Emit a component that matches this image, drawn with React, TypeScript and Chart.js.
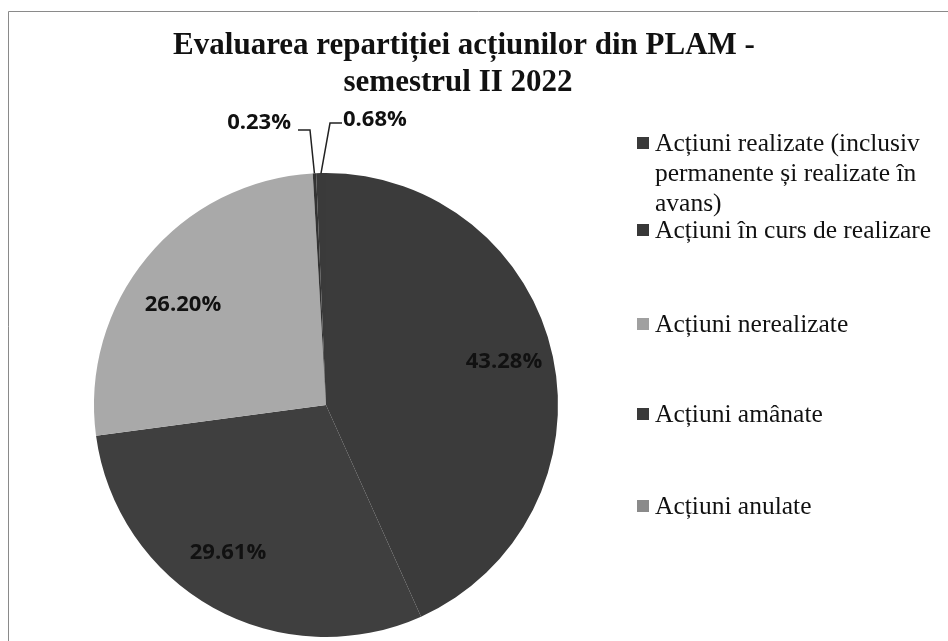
import React, { useEffect, useRef } from "react";
import { Chart, registerables } from "chart.js";

Chart.register(...registerables);

const titleLines = ["Evaluarea repartiției acțiunilor din PLAM -", "semestrul II 2022"];
const categories = [
  "Acțiuni realizate (inclusiv permanente și realizate în avans)",
  "Acțiuni în curs de realizare",
  "Acțiuni nerealizate",
  "Acțiuni amânate",
  "Acțiuni anulate",
];
const legendLines = [
  ["Acțiuni realizate (inclusiv", "permanente și realizate în", "avans)"],
  ["Acțiuni în curs de realizare"],
  ["Acțiuni nerealizate"],
  ["Acțiuni amânate"],
  ["Acțiuni anulate"],
];
const values = [43.28, 29.61, 26.2, 0.23, 0.68];
const valueLabels = ["43.28%", "29.61%", "26.20%", "0.23%", "0.68%"];
const sliceColors = ["#3b3b3b", "#3f3f3f", "#a9a9a9", "#333333", "#3a3a3a"];
const legendColors = ["#3a3a3a", "#383838", "#a0a0a0", "#3a3a3a", "#8a8a8a"];

const overlay = {
  id: "overlay",
  afterDraw(chart: any) {
    const ctx = chart.ctx as CanvasRenderingContext2D;
    ctx.save();
    // frame
    ctx.strokeStyle = "#8a8a8a";
    ctx.lineWidth = 1;
    ctx.beginPath();
    ctx.moveTo(8.5, 641);
    ctx.lineTo(8.5, 11.5);
    ctx.lineTo(948, 11.5);
    ctx.stroke();

    // title
    ctx.fillStyle = "#111";
    ctx.font = "bold 31px 'Liberation Serif', 'Times New Roman', serif";
    ctx.textAlign = "center";
    ctx.textBaseline = "middle";
    ctx.fillText(titleLines[0], 464, 46);
    ctx.fillText(titleLines[1], 458, 83);

    // data labels
    const meta = chart.getDatasetMeta(0);
    ctx.font = "bold 22px 'Open Sans', 'DejaVu Sans', sans-serif";
    ctx.fillStyle = "#111";
    const pos = [
      [504, 362],
      [228, 553],
      [183, 305],
    ];
    pos.forEach(([x, y], i) => ctx.fillText(valueLabels[i], x, y));

    // small slices with leaders
    const a3 = meta.data[3];
    const a4 = meta.data[4];
    const pt = (arc: any) => {
      const mid = (arc.startAngle + arc.endAngle) / 2;
      return [arc.x + Math.cos(mid) * arc.outerRadius, arc.y + Math.sin(mid) * arc.outerRadius];
    };
    const [x3, y3] = pt(a3);
    const [x4, y4] = pt(a4);
    ctx.strokeStyle = "#222";
    ctx.lineWidth = 1.5;
    ctx.beginPath();
    ctx.moveTo(298, 130);
    ctx.lineTo(310, 130);
    ctx.lineTo(x3, y3);
    ctx.stroke();
    ctx.beginPath();
    ctx.moveTo(342, 123);
    ctx.lineTo(330, 123);
    ctx.lineTo(x4, y4);
    ctx.stroke();
    ctx.textAlign = "right";
    ctx.fillText(valueLabels[3], 291, 123);
    ctx.textAlign = "left";
    ctx.fillText(valueLabels[4], 343, 120);

    // legend
    const entryY = [144, 231, 325, 415, 507];
    ctx.font = "25.5px 'Liberation Serif', 'Times New Roman', serif";
    ctx.textBaseline = "middle";
    ctx.textAlign = "left";
    legendLines.forEach((lines, i) => {
      const y0 = entryY[i];
      ctx.fillStyle = legendColors[i];
      ctx.fillRect(637, y0 - 7, 12, 12);
      ctx.fillStyle = "#111";
      lines.forEach((ln, k) => {
        ctx.fillText(ln, 655, y0 + k * 30);
      });
    });
    ctx.restore();
  },
};

export default function App() {
  const ref = useRef<HTMLCanvasElement>(null);
  useEffect(() => {
    document.body.style.margin = "0";
    const chart = new Chart(ref.current as HTMLCanvasElement, {
      type: "pie",
      data: {
        labels: categories,
        datasets: [
          {
            data: values,
            backgroundColor: sliceColors,
            borderColor: sliceColors,
            borderWidth: 0,
          },
        ],
      },
      options: {
        animation: false,
        responsive: false,
        layout: { padding: { left: 94, right: 390, top: 172, bottom: 3 } },
        plugins: {
          legend: { display: false },
          title: { display: false },
          tooltip: { enabled: false },
        },
      },
      plugins: [overlay],
    });
    return () => chart.destroy();
  }, []);
  return (
    <div style={{ width: 948, height: 641, background: "#fff" }}>
      <canvas ref={ref} width={948} height={641} style={{ display: "block" }} />
    </div>
  );
}
